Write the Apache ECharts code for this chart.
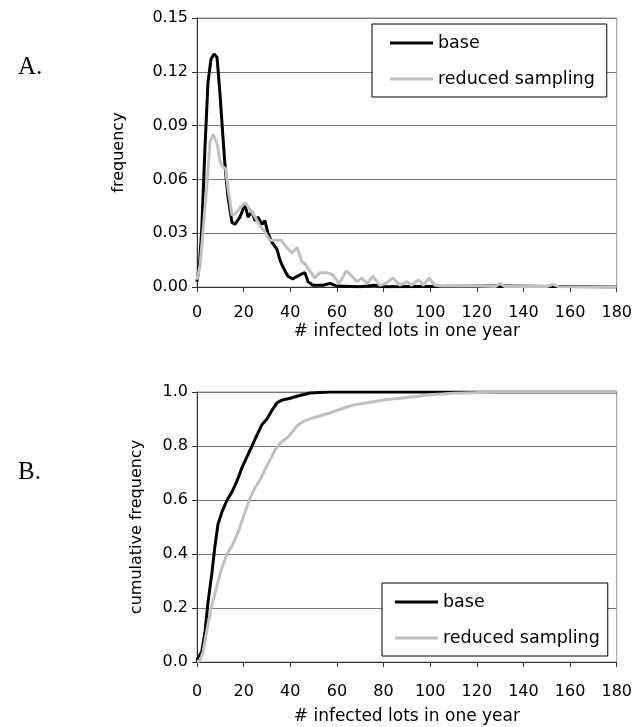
<!DOCTYPE html>
<html>
<head>
<meta charset="utf-8">
<script src="https://cdn.jsdelivr.net/npm/echarts@6/dist/echarts.min.js"></script>
<style>
  html,body{margin:0;padding:0;background:#fff;}
  #main{width:635px;height:727px;}
</style>
</head>
<body>
<div id="main"></div>
<script>
// x 轴刻度
var xTicks=[0,20,40,60,80,100,120,140,160,180];
var seriesNames=["base","reduced sampling"];

// A. frequency
var baseX=[0,1,2,3.4,4.7,6,7.3,8.6,9.9,11,12,13.3,15,16.3,18.4,20.6,21.9,23.6,24.9,26.1,27.9,29.1,30.4,32.1,34.3,35.6,36.9,39,41,44,46.3,47.6,49.7,54,57,60,70,76,80,130,180];
var baseFreq=[0.003,0.012,0.031,0.077,0.114,0.127,0.130,0.128,0.107,0.086,0.068,0.050,0.036,0.035,0.039,0.046,0.039,0.042,0.037,0.039,0.035,0.037,0.030,0.025,0.021,0.015,0.011,0.006,0.0045,0.0067,0.008,0.003,0.001,0.001,0.002,0.0005,0.0002,0.001,0.0002,0.0005,0];
var reducedX=[0,1.3,2.6,4.3,5.6,6.9,8.6,9.9,11,12.3,13.3,15,16.5,18.4,20.6,22.3,24.5,27,29,31.3,33.5,36,38.5,40.7,42.9,45,46.3,48.4,50.5,52.7,55.5,58,61,64,66.4,68.6,70.7,73,75.4,78.4,81,84,87,90,92,95,97,99.5,102,105,120,128,130,132,150,152.6,155,180];
var reducedFreq=[0.004,0.012,0.031,0.058,0.081,0.085,0.080,0.070,0.067,0.066,0.055,0.040,0.041,0.044,0.047,0.044,0.040,0.034,0.031,0.026,0.026,0.026,0.022,0.019,0.022,0.014,0.013,0.009,0.005,0.008,0.008,0.007,0.002,0.009,0.006,0.003,0.005,0.002,0.006,0.001,0.002,0.005,0.001,0.003,0.001,0.004,0.001,0.005,0.001,0.0005,0.0005,0.0003,0.002,0.0003,0.0003,0.0015,0.0002,0];

// B. cumulative frequency
var baseCumX=[0,0.4,2,3.4,4.7,6.4,7.7,9,10.7,12.9,15,17,19.3,21.4,23.6,25.7,27.9,30,32,34.3,36.4,40,43.3,45.4,48.4,57,180];
var baseCum=[0,0.015,0.037,0.11,0.22,0.33,0.43,0.51,0.556,0.60,0.63,0.667,0.72,0.76,0.80,0.84,0.88,0.90,0.93,0.96,0.97,0.977,0.985,0.99,0.996,1,1];
var reducedCumX=[0,1.3,2.6,4.7,6.4,8.6,10.7,12.9,15,17.6,20.6,22.7,24.9,27,29,31.3,33.4,35.6,38.6,40.7,42.9,45.4,47,49.7,54,58.3,62.6,67,73,80,87,94,100,110,130,180];
var reducedCum=[0,0.007,0.037,0.14,0.21,0.285,0.35,0.40,0.43,0.48,0.556,0.607,0.645,0.674,0.71,0.748,0.785,0.81,0.83,0.85,0.875,0.89,0.896,0.904,0.915,0.926,0.94,0.952,0.96,0.97,0.977,0.983,0.99,0.995,1,1];

var colors=["#000000","#c0c0c0"];
var font="DejaVu Sans";

var pairs=function(xs,ys){
  return xs.map(function(x,i){return [x,ys[i]];});
};

var xAxisOpt=function(idx,margin,gap){
  return {
    type:"value",gridIndex:idx,min:xTicks[0],max:xTicks[xTicks.length-1],interval:20,
    name:"# infected lots in one year",nameLocation:"middle",nameGap:gap,
    nameTextStyle:{fontFamily:font,fontSize:17,color:"#000"},
    axisLine:{show:true,onZero:false,lineStyle:{color:"#333",width:1}},
    axisTick:{show:true,inside:false,length:5,lineStyle:{color:"#333"}},
    axisLabel:{fontFamily:font,fontSize:16,color:"#000",margin:margin},
    splitLine:{show:false}
  };
};
var yAxisOpt=function(idx,max,interval,digits,name,gap){
  return {
    type:"value",gridIndex:idx,min:0,max:max,interval:interval,
    name:name,nameLocation:"middle",nameGap:gap,nameRotate:90,
    nameTextStyle:{fontFamily:font,fontSize:16,color:"#000"},
    axisLine:{show:true,lineStyle:{color:"#333",width:1}},
    axisTick:{show:true,inside:false,length:5,lineStyle:{color:"#333"}},
    axisLabel:{fontFamily:font,fontSize:16,color:"#000",margin:9,
      formatter:function(v){return v.toFixed(digits);}},
    splitLine:{show:true,lineStyle:{color:"#777",width:1}}
  };
};
var legendOpt=function(left,top,pad){
  return {
    orient:"vertical",left:left,top:top,padding:pad,
    itemGap:16,itemWidth:43,itemHeight:3,icon:"rect",
    borderColor:"#000",borderWidth:1,backgroundColor:"#fff",
    textStyle:{fontFamily:font,fontSize:17.5,color:"#000",lineHeight:20},
    data:seriesNames
  };
};
var lineSeries=function(name,idx,data,color){
  return {
    name:name,type:"line",xAxisIndex:idx,yAxisIndex:idx,data:data,
    showSymbol:false,symbol:"none",smooth:false,
    lineStyle:{color:color,width:3},itemStyle:{color:color},
    animation:false
  };
};

var chart=echarts.init(document.getElementById("main"));
chart.setOption({
  backgroundColor:"#fff",
  animation:false,
  title:[
    {text:"A.",left:13,top:50,textStyle:{fontFamily:"Liberation Serif",fontSize:25,fontWeight:"normal",color:"#000"}},
    {text:"B.",left:13,top:455,textStyle:{fontFamily:"Liberation Serif",fontSize:25,fontWeight:"normal",color:"#000"}}
  ],
  grid:[
    {left:197,top:18,width:420,height:269,show:true,borderColor:"#999",borderWidth:1},
    {left:197,top:392,width:420,height:270,show:true,borderColor:"#999",borderWidth:1}
  ],
  legend:[
    legendOpt(372,24,[9,12,8,18]),
    legendOpt(382,583,[9,8,8,13])
  ],
  xAxis:[xAxisOpt(0,18,36),xAxisOpt(1,22,46)],
  yAxis:[
    yAxisOpt(0,0.15,0.03,2,"frequency",70),
    yAxisOpt(1,1,0.2,1,"cumulative frequency",52)
  ],
  series:[
    lineSeries(seriesNames[0],0,pairs(baseX,baseFreq),colors[0]),
    lineSeries(seriesNames[1],0,pairs(reducedX,reducedFreq),colors[1]),
    lineSeries(seriesNames[0],1,pairs(baseCumX,baseCum),colors[0]),
    lineSeries(seriesNames[1],1,pairs(reducedCumX,reducedCum),colors[1])
  ]
});
</script>
</body>
</html>
